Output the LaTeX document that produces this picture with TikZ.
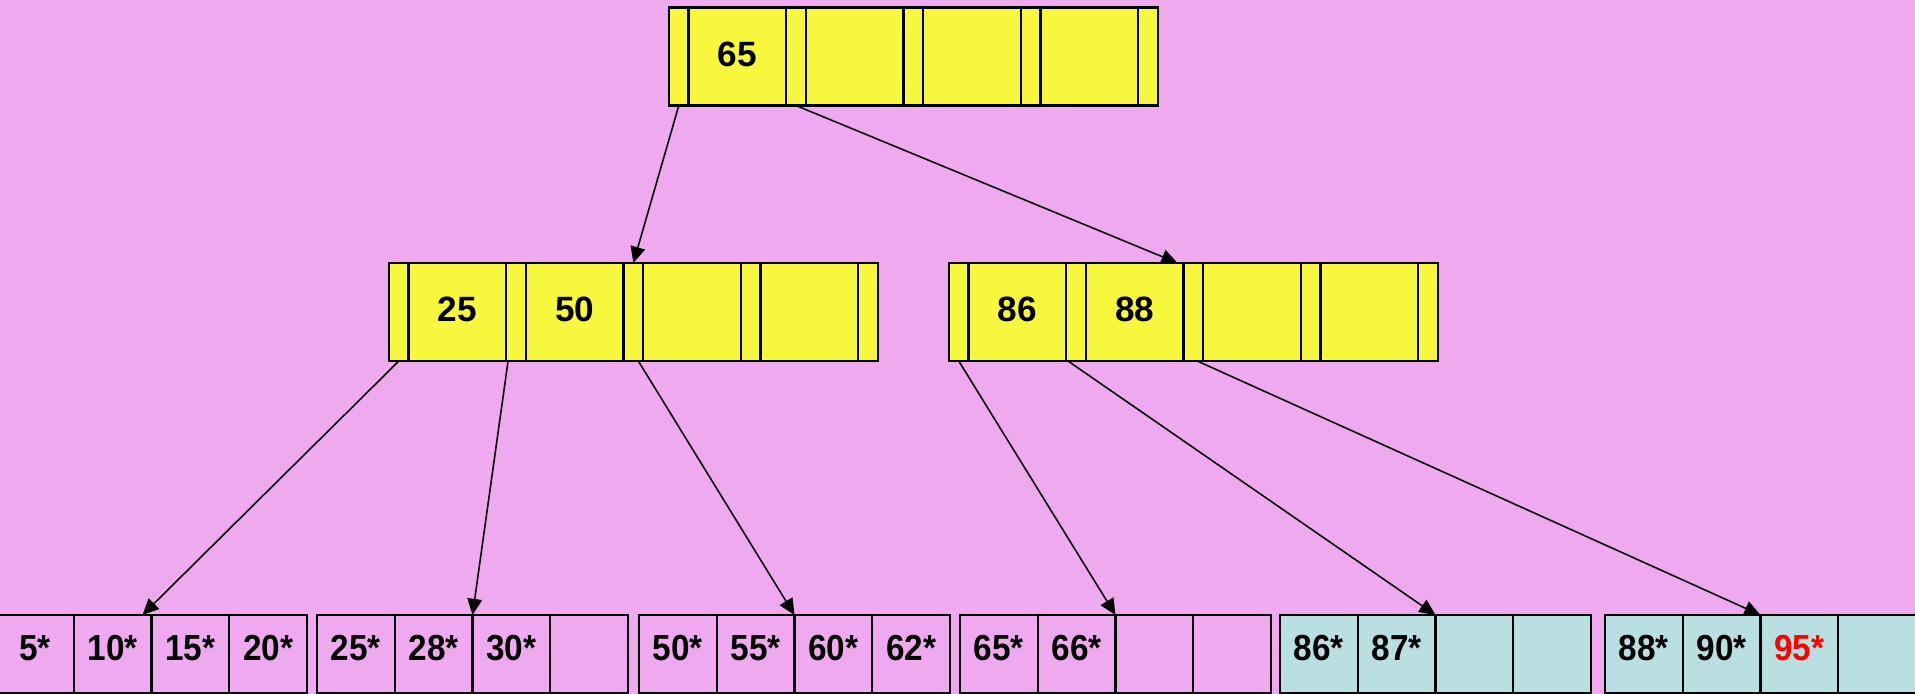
\documentclass[tikz,border=0pt]{standalone}
\usepackage{fontspec}
\setmainfont{Liberation Sans}
\newfontfamily\leaffont[FakeStretch=0.92]{Liberation Sans}
\usetikzlibrary{positioning,arrows.meta}
\definecolor{bgpink}{RGB}{239,170,239}
\definecolor{keyyellow}{RGB}{247,248,62}
\definecolor{leafteal}{RGB}{186,223,225}
\newcommand{\hot}[1]{\textcolor{red}{#1}}

\begin{document}
\begin{tikzpicture}[x=0.01cm,y=-0.01cm,node distance=0pt,>={Triangle[length=4.6pt,width=4.2pt]}]
\tikzstyle{cell}=[draw=black,line width=0.65pt,outer sep=0pt,inner sep=0pt]
\tikzstyle{ptr}=[cell,fill=keyyellow,minimum width=0.196cm,minimum height=0.98cm]
\tikzstyle{key}=[cell,fill=keyyellow,minimum width=0.976cm,minimum height=0.98cm,text depth=1.4pt,font=\bfseries\fontsize{10}{12}\selectfont]
\tikzstyle{leaf}=[cell,fill=bgpink,minimum width=0.777cm,minimum height=0.78cm,text depth=3.4pt,font=\leaffont\bfseries\fontsize{10.3}{12}\selectfont]
\tikzstyle{full}=[leaf,fill=leafteal]
\tikzstyle{link}=[->,line width=0.45pt]

\fill[bgpink] (0,0) rectangle (1915,694);
\useasboundingbox (0,0) rectangle (1915,694);

% index nodes: root (r), left (a), right (b)
\foreach \nm/\x/\y/\ka/\kb in {r/669/7.5/65/{}, a/389/263/25/50, b/949/263/86/88} {
  \node[ptr,anchor=north west] (\nm p0) at (\x,\y) {};
  \foreach \i/\t [remember=\i as \j (initially 0)] in {1/\ka,2/\kb,3/{},4/{}} {
    \node[key,right=of \nm p\j] (\nm k\i) {\t};
    \node[ptr,right=of \nm k\i] (\nm p\i) {};
  }
}

% leaf pages
\foreach \n/\x/\kind/\a/\b/\c/\d in {0/-4/leaf/5*/10*/15*/20*, 1/317/leaf/25*/28*/30*/{},
    2/639/leaf/50*/55*/60*/62*, 3/960/leaf/65*/66*/{}/{},
    4/1280/full/86*/87*/{}/{}, 5/1605/full/88*/90*/\hot{95*}/{}} {
  \node[style=\kind,anchor=north west] (l\n-1) at (\x,615) {\a};
  \node[style=\kind,right=of l\n-1] (l\n-2) {\b};
  \node[style=\kind,right=of l\n-2] (l\n-3) {\c};
  \node[style=\kind,right=of l\n-3] (l\n-4) {\d};
}

% pointers
\draw[link] (rp0.south) -- (ap2.north);
\draw[link] (rp1.south) -- ([xshift=-0.06cm]bk2.north east);
\draw[link] (ap0.south) -- ([xshift=-0.09cm]l0-2.north east);
\draw[link] ([xshift=-0.08cm]ap1.south) -- (l1-3.north west);
\draw[link] ([xshift=0.05cm]ap2.south) -- (l2-3.north west);
\draw[link] (bp0.south) -- (l3-3.north west);
\draw[link] ([xshift=-0.08cm]bp1.south) -- (l4-3.north west);
\draw[link] ([xshift=0.04cm]bp2.south) -- (l5-3.north west);
\end{tikzpicture}
\end{document}
